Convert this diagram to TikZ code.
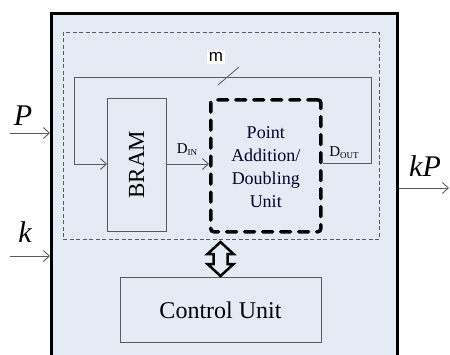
\documentclass[tikz,border=0pt]{standalone}
\usepackage{fontspec}
\setmainfont{Liberation Serif}
\newfontfamily\arialf{Liberation Sans}
\usetikzlibrary{arrows.meta,calc}
\definecolor{bgblue}{HTML}{E5EBF5}
\definecolor{lgray}{HTML}{5A5A5A}
\tikzset{
  boxnode/.style={draw=lgray, line width=0.9pt, anchor=north west, inner sep=0pt, outer sep=0pt},
  wire/.style={draw=lgray, line width=0.9pt},
  arr/.style={wire, -{Straight Barb[length=6pt,width=11pt,line width=0.9pt]}},
  fz/.style={font=\fontsize{#1}{#1}\selectfont},
}
\begin{document}
\begin{tikzpicture}[x=1pt,y=-1pt]
\useasboundingbox (0,0) rectangle (450,354);
\clip (0,0) rectangle (450,354);
\fill[white] (0,0) rectangle (450,354);
% frame
\node[draw=black, fill=bgblue, line width=3pt, anchor=north west, minimum width=346pt, minimum height=350pt, inner sep=0pt] (frame) at (50,12) {};
% dashed outer box
\node[draw=lgray, dash pattern=on 4pt off 2.5pt, line width=0.8pt, anchor=north west, minimum width=316pt, minimum height=207pt, inner sep=0pt] (dbox) at (63,32) {};
% BRAM
\node[boxnode, minimum width=59pt, minimum height=133pt] (bram) at (107,98) {};
\node[fz=23, rotate=90] (bramt) at (bram.center) {BRAM};
% PADU
\node[draw=black, line width=3.5pt, dash pattern=on 10pt off 8pt, line cap=round, rounded corners=3pt, anchor=north west, minimum width=110pt, minimum height=132pt, inner sep=0pt] (padu) at (209,98) {};
\node[align=center, text=black!85!blue, font=\fontsize{18}{23}\selectfont] (padut) at ($(padu.center)+(0,1)$) {Point\\Addition/\\Doubling\\Unit};
% Control unit
\node[boxnode, minimum width=201pt, minimum height=65pt] (ctrl) at (120,277) {};
\node[fz=24] (ctrlt) at ($(ctrl.center)+(0,1)$) {Control Unit};
% inputs
\coordinate (pin) at (10,133);
\coordinate (kin) at (10,256);
\coordinate (kpout) at (449,188);
\draw[arr] (pin) -- (pin -| frame.west);
\draw[arr] (kin) -- (kin -| frame.west);
\draw[arr] (frame.east |- kpout) -- (kpout);
\node[font=\itshape\fontsize{30}{30}\selectfont] (plab) at (23,116) {P};
\node[font=\itshape\fontsize{30}{30}\selectfont] (klab) at (25,232) {k};
\node[font=\itshape\fontsize{30}{30}\selectfont] (kplab) at (425,166) {kP};
% loop
\coordinate (lo1) at (371,163);
\coordinate (lo2) at (371,77);
\coordinate (lo3) at (74,77);
\coordinate (lo4) at (74,164);
\draw[wire] (padu.east |- lo1) -- (lo1) -- (lo2) -- (lo3) -- (lo4);
\draw[arr] (lo4) -- (bram.west |- lo4);
\draw[arr] (bram.east |- lo4) -- (padu.west |- lo4);
% labels
\node[font=\fontsize{15}{15}\selectfont, inner sep=0pt] (din) at (187,150) {D\raisebox{-2pt}{\fontsize{9}{9}\selectfont IN}};
\node[font=\fontsize{15}{15}\selectfont, inner sep=0pt] (dout) at (344,153) {D\raisebox{-2pt}{\fontsize{9}{9}\selectfont OUT}};
% m bus label
\coordinate (ms1) at (218,85);
\coordinate (ms2) at (239,67);
\draw[wire, line width=0.8pt] (ms1) -- (ms2);
\node[fill=white, inner sep=2pt, font=\arialf\fontsize{17}{17}\selectfont] (mlab) at (216,57) {m};
% double arrow between PADU and control
\coordinate (da1) at (220.5,241);
\coordinate (da2) at (ctrl.north);
\draw[draw=black, fill=bgblue, line width=2.5pt, line join=miter, shift={($(da1)!0.5!(da2)$)}]
  (0,-17) -- (13,-5) -- (7,-5) -- (7,5) -- (13,5) -- (0,17) -- (-13,5) -- (-7,5) -- (-7,-5) -- (-13,-5) -- cycle;
\end{tikzpicture}
\end{document}
